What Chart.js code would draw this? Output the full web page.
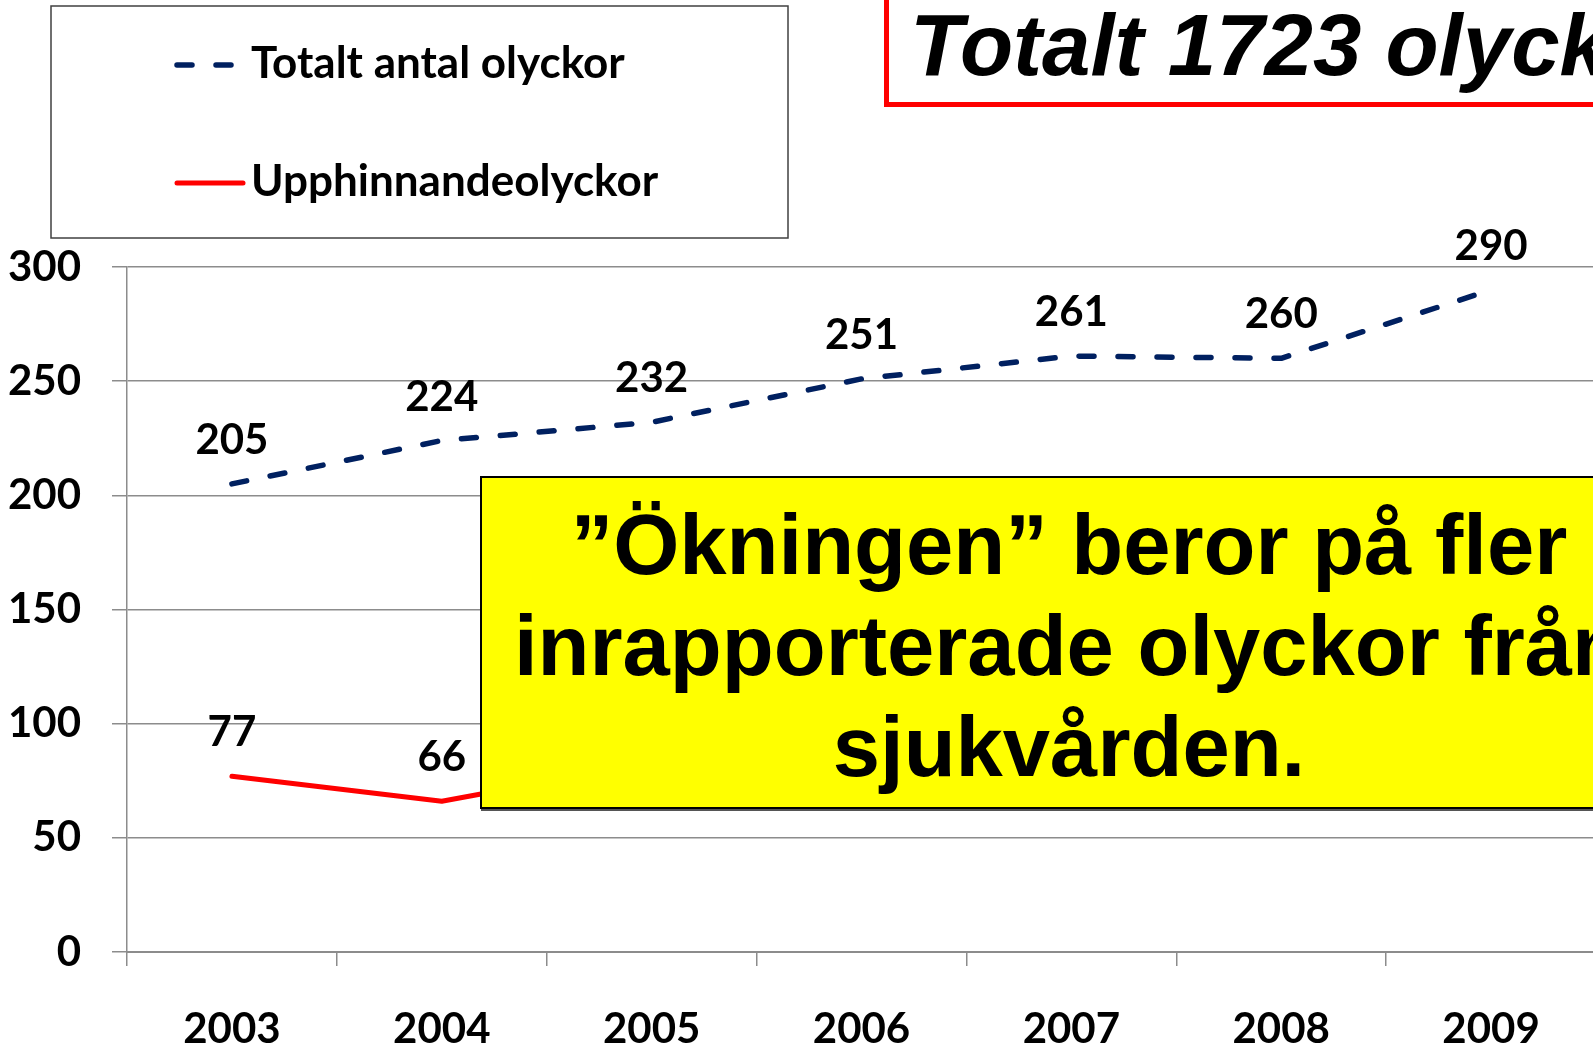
<!DOCTYPE html>
<html>
<head>
<meta charset="utf-8">
<script src="https://cdn.jsdelivr.net/npm/chart.js@4/dist/chart.umd.min.js"></script>
<style>
  html, body { margin: 0; padding: 0; background: #fff; overflow: hidden; width: 1593px; height: 1045px; }
  #wrap { position: absolute; left: 0; top: 0; width: 1600px; height: 1045px; }
  #title { position: absolute; left: 884px; top: -20px; width: 900px; height: 127px; border: 5px solid #ff0000; background: #fff;
           box-sizing: border-box; font-family: "Liberation Sans", Arial, sans-serif; font-weight: bold; font-style: italic;
           font-size: 87px; line-height: 87px; padding-top: 16px; padding-left: 21px; white-space: nowrap; color: #000; }
  #note { position: absolute; left: 480px; top: 476px; width: 1178px; height: 333px; border: 2px solid #000; background: #ffff00;
          box-sizing: border-box; font-family: "Liberation Sans", Arial, sans-serif; font-weight: bold; font-size: 85px;
          line-height: 101px; text-align: center; padding-top: 16px; color: #000; white-space: nowrap; box-shadow: 1px 2px 0 #555; }
</style>
</head>
<body>
<div id="wrap"><canvas id="c" width="1600" height="1045"></canvas></div>
<div id="title">Totalt 1723 olyckor</div>
<div id="note">”Ökningen” beror på fler<br>inrapporterade olyckor från<br>sjukvården.</div>
<script>
const years = ['2003', '2004', '2005', '2006', '2007', '2008', '2009'];
const totalLabel = 'Totalt antal olyckor';
const totalValues = [205, 224, 232, 251, 261, 260, 290];
const overtakeLabel = 'Upphinnandeolyckor';
// values after 2005 are hidden behind the note box in the reference
const overtakeValues = [77, 66, 83, null, null, null, null];
const yTicks = [0, 50, 100, 150, 200, 250, 300];

const FONT = 'Lato, "Open Sans", sans-serif';
const GRID = '#8c8c8c';

const valueLabels = {
  id: 'valueLabels',
  afterDatasetsDraw(chart) {
    const ctx = chart.ctx;
    ctx.save();
    ctx.font = 'bold 42px ' + FONT;
    ctx.fillStyle = '#000';
    ctx.textAlign = 'center';
    ctx.textBaseline = 'alphabetic';
    chart.data.datasets.forEach((ds, i) => {
      const meta = chart.getDatasetMeta(i);
      meta.data.forEach((pt, j) => {
        const v = ds.data[j];
        if (v === null || v === undefined) return;
        ctx.fillText(String(v), pt.x, pt.y - 30);
      });
    });
    ctx.restore();
  }
};

const boxLegend = {
  id: 'boxLegend',
  afterDraw(chart) {
    const ctx = chart.ctx;
    ctx.save();
    ctx.fillStyle = '#fff';
    ctx.fillRect(51, 6, 737, 232);
    ctx.strokeStyle = '#404040';
    ctx.lineWidth = 1.5;
    ctx.strokeRect(51, 6, 737, 232);
    const rows = [{y: 65, tb: 78}, {y: 183, tb: 196}];
    chart.data.datasets.forEach((ds, i) => {
      const r = rows[i];
      ctx.beginPath();
      ctx.strokeStyle = ds.borderColor;
      ctx.lineWidth = ds.borderWidth;
      ctx.lineCap = ds.borderCapStyle || 'butt';
      ctx.setLineDash(ds.borderDash || []);
      ctx.moveTo(177, r.y);
      ctx.lineTo(ds.borderDash ? 236 : 243, r.y);
      ctx.stroke();
      ctx.setLineDash([]);
      ctx.fillStyle = '#000';
      ctx.font = 'bold 44px ' + FONT;
      ctx.textAlign = 'left';
      ctx.textBaseline = 'alphabetic';
      ctx.fillText(ds.label, 251, r.tb);
    });
    ctx.restore();
  }
};

new Chart(document.getElementById('c'), {
  type: 'line',
  data: {
    labels: years,
    datasets: [
      { label: totalLabel, data: totalValues, borderColor: '#002060', borderWidth: 5.5, borderDash: [15, 24],
        borderCapStyle: 'round', borderJoinStyle: 'round', pointRadius: 0, tension: 0, fill: false },
      { label: overtakeLabel, data: overtakeValues, borderColor: '#ff0000', borderWidth: 5,
        borderCapStyle: 'round', borderJoinStyle: 'round', pointRadius: 0, tension: 0, fill: false, spanGaps: false }
    ]
  },
  options: {
    responsive: false,
    animation: false,
    layout: { padding: { top: 267, right: 4, left: 0, bottom: 0 } },
    plugins: { legend: { display: false }, tooltip: { enabled: false } },
    scales: {
      x: {
        type: 'category',
        offset: true,
        grid: { offset: true, drawOnChartArea: false, drawTicks: true, tickLength: 14, color: GRID, lineWidth: 1.5 },
        border: { display: true, color: GRID, width: 2 },
        ticks: { color: '#000', font: { family: FONT, size: 42, weight: 'bold' }, padding: 38, maxRotation: 0, autoSkip: false },
        afterFit(s) { s.height = 93; }
      },
      y: {
        min: 0, max: 300,
        afterBuildTicks(s) { s.ticks = yTicks.map(v => ({ value: v })); },
        grid: { color: GRID, lineWidth: 1.5, drawTicks: true, tickLength: 15 },
        border: { display: true, color: GRID, width: 1.5 },
        ticks: { color: '#000', font: { family: FONT, size: 42, weight: 'bold' }, padding: 31 },
        afterFit(s) { s.width = 127; }
      }
    }
  },
  plugins: [valueLabels, boxLegend]
});
</script>
</body>
</html>
